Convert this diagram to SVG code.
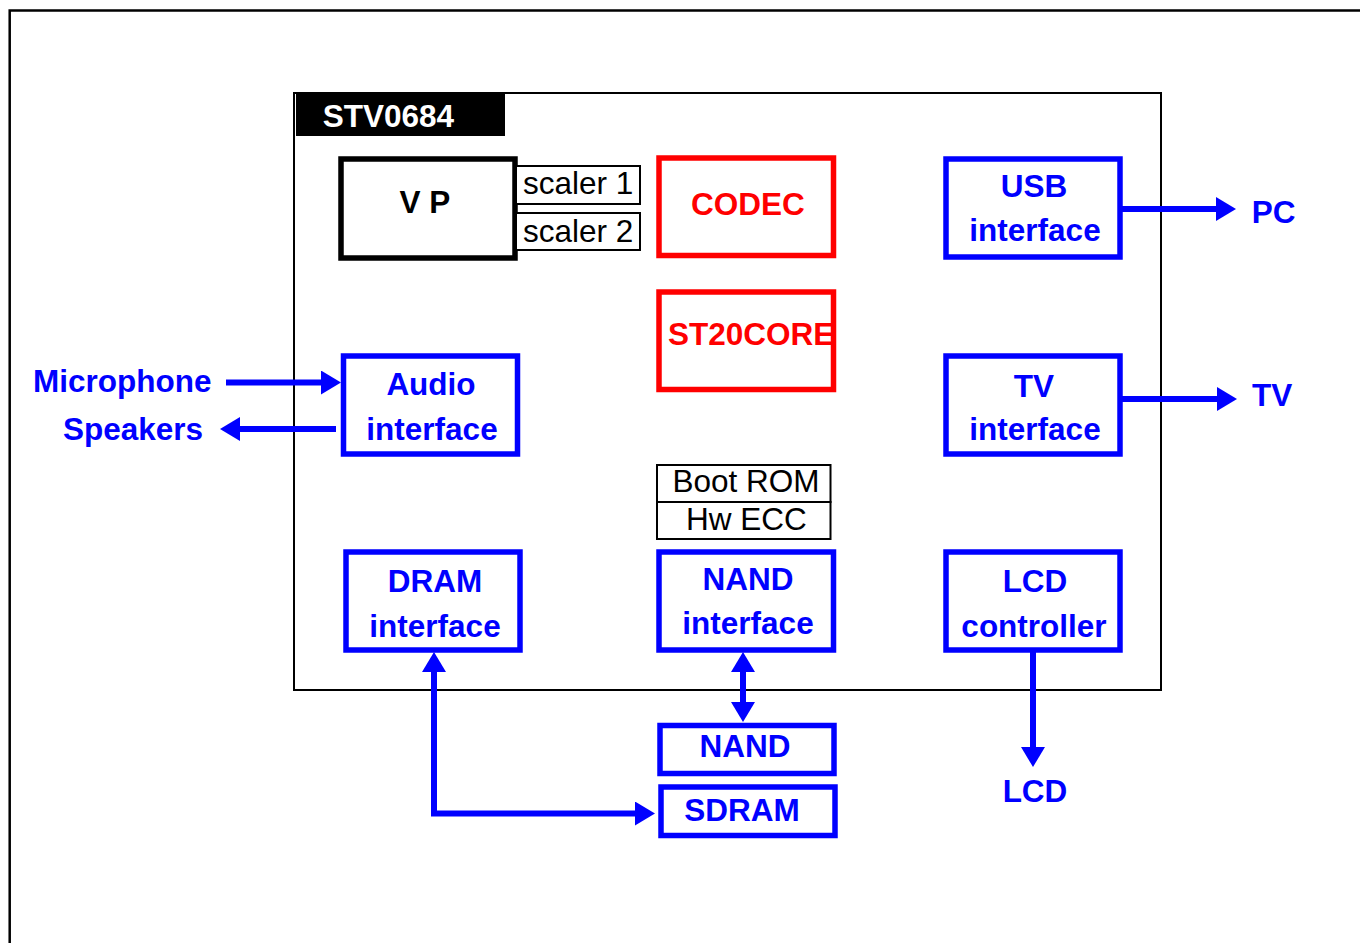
<svg xmlns="http://www.w3.org/2000/svg" width="1360" height="943" viewBox="0 0 1360 943">
<style>
text{font-family:"Liberation Sans",Arial,sans-serif;font-size:31.5px}
.b{font-weight:bold}
.c{text-anchor:middle}
.blue{fill:#0000FF}
.red{fill:#FF0000}
.bbox{fill:none;stroke:#0000FF;stroke-width:5.5}
.rbox{fill:none;stroke:#FF0000;stroke-width:5.5}
.kbox{fill:#fff;stroke:#000;stroke-width:2}
.conn{fill:none;stroke:#0000FF;stroke-width:6}
</style>
<defs>
<marker id="ah" viewBox="0 0 20 24" refX="0" refY="12" markerWidth="20" markerHeight="24" markerUnits="userSpaceOnUse" orient="auto-start-reverse">
<path d="M0,0 L20,12 L0,24 Z" fill="#0000FF"/>
</marker>
</defs>
<rect width="1360" height="943" fill="#fff"/>
<path d="M9.7,943 V10.5 H1360" fill="none" stroke="#000" stroke-width="2.5"/>
<g id="chip">
<rect x="294" y="93" width="867" height="597" fill="none" stroke="#000" stroke-width="2"/>
<rect x="296" y="93" width="209" height="43" fill="#000"/>
<text x="322.7" y="127" class="b" fill="#fff">STV0684</text>
</g>
<g id="vp">
<rect x="341" y="159" width="174" height="99" fill="none" stroke="#000" stroke-width="5.5"/>
<text x="425" y="213" class="b c">V P</text>
</g>
<g id="scaler1">
<rect x="516" y="166" width="124" height="38" class="kbox"/>
<text x="523" y="194">scaler 1</text>
</g>
<g id="scaler2">
<rect x="516" y="213" width="124" height="37" class="kbox"/>
<text x="523" y="241.5">scaler 2</text>
</g>
<g id="codec">
<rect x="659" y="158" width="174.5" height="97.5" class="rbox"/>
<text x="748" y="215" class="b c red">CODEC</text>
</g>
<g id="st20core">
<text x="668" y="345" class="b red">ST20CORE</text>
<rect x="659" y="292" width="174.5" height="97.5" class="rbox"/>
</g>
<g id="usb">
<rect x="946" y="159" width="174" height="98" class="bbox"/>
<text x="1034" y="197" class="b c blue">USB</text>
<text x="1035" y="241" class="b c blue">interface</text>
</g>
<g id="tvif">
<rect x="946" y="356" width="174" height="98" class="bbox"/>
<text x="1034" y="397" class="b c blue">TV</text>
<text x="1035" y="440" class="b c blue">interface</text>
</g>
<g id="audio">
<rect x="343.5" y="356" width="174" height="98" class="bbox"/>
<text x="431" y="395" class="b c blue">Audio</text>
<text x="432" y="440" class="b c blue">interface</text>
</g>
<g id="bootrom">
<rect x="657" y="465" width="173.5" height="37" class="kbox"/>
<text x="746" y="492" class="c">Boot ROM</text>
</g>
<g id="hwecc">
<rect x="657" y="502" width="173.5" height="37" class="kbox"/>
<text x="746.5" y="530" class="c">Hw ECC</text>
</g>
<g id="dram">
<rect x="346" y="552" width="174" height="98" class="bbox"/>
<text x="435" y="592" class="b c blue">DRAM</text>
<text x="435" y="637" class="b c blue">interface</text>
</g>
<g id="nandif">
<rect x="659" y="552" width="174.5" height="98" class="bbox"/>
<text x="748" y="590" class="b c blue">NAND</text>
<text x="748" y="634" class="b c blue">interface</text>
</g>
<g id="lcdctrl">
<rect x="946" y="552" width="174" height="98" class="bbox"/>
<text x="1035" y="592" class="b c blue">LCD</text>
<text x="1034" y="637" class="b c blue">controller</text>
</g>
<g id="nand">
<rect x="660" y="725.5" width="174" height="48" class="bbox"/>
<text x="745" y="757" class="b c blue">NAND</text>
</g>
<g id="sdram">
<rect x="661" y="787" width="174" height="48.5" class="bbox"/>
<text x="742" y="821" class="b c blue">SDRAM</text>
</g>
<g id="labels">
<text x="1251.7" y="223" class="b blue">PC</text>
<text x="1252" y="406" class="b blue">TV</text>
<text x="33" y="392" class="b blue">Microphone</text>
<text x="63" y="440" class="b blue">Speakers</text>
<text x="1035" y="802" class="b c blue">LCD</text>
</g>
<g id="connectors">
<path d="M1122,209 H1216" class="conn" marker-end="url(#ah)"/>
<path d="M1122,399 H1217" class="conn" marker-end="url(#ah)"/>
<path d="M226,382.5 H321" class="conn" marker-end="url(#ah)"/>
<path d="M336,429 H240" class="conn" marker-end="url(#ah)"/>
<path d="M743,672 V702" class="conn" marker-start="url(#ah)" marker-end="url(#ah)"/>
<path d="M434,672 V813.5 H635" class="conn" marker-start="url(#ah)" marker-end="url(#ah)"/>
<path d="M1033,652 V747" class="conn" marker-end="url(#ah)"/>
</g>
</svg>
